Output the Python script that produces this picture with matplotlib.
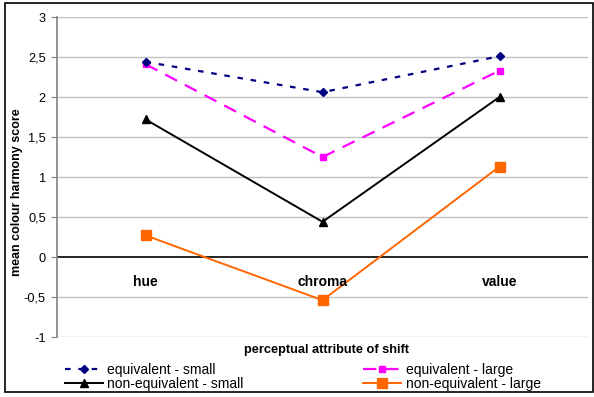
import matplotlib
matplotlib.use("Agg")
import matplotlib.pyplot as plt
from matplotlib.patches import Rectangle

plt.rcParams['font.family'] = ['Liberation Sans', 'DejaVu Sans']

categories = ["hue", "chroma", "value"]
eq_small = [2.44, 2.06, 2.51]
eq_large = [2.41, 1.25, 2.33]
neq_small = [1.72, 0.44, 2.0]
neq_large = [0.27, -0.54, 1.13]
yticks = [-1, -0.5, 0, 0.5, 1, 1.5, 2, 2.5, 3]
ytick_labels = ["-1", "-0,5", "0", "0,5", "1", "1,5", "2", "2,5", "3"]

fig = plt.figure(figsize=(5.94, 3.97), dpi=100)
ax = fig.add_axes([57/594, 1-337/397, (588-57)/594, (337-17)/397])

x = [0.5, 1.5, 2.5]
ax.set_xlim(0, 3)
ax.set_ylim(-1, 3)

for yv in yticks:
    if yv != 0:
        ax.axhline(yv, color="#c0c0c0", lw=1, zorder=0)
ax.axhline(0, color="black", lw=1.2, zorder=1)

l1, = ax.plot(x, eq_small, color="#000080", lw=1.6, dashes=(2.5, 3.5), marker="D", ms=4,
              label="equivalent - small", zorder=5)
l2, = ax.plot(x, eq_large, color="#ff00ff", lw=1.6, dashes=(6, 4), marker="s", ms=5,
              label="equivalent - large", zorder=4)
l3, = ax.plot(x, neq_small, color="black", lw=1.4, marker="^", ms=6,
              label="non-equivalent - small", zorder=3)
l4, = ax.plot(x, neq_large, color="#ff6600", lw=1.4, marker="s", ms=7,
              label="non-equivalent - large", zorder=3)

for xi, c in zip(x, categories):
    ax.text(xi, -0.31, c, ha="center", va="center", fontsize=10, fontweight="bold")

ax.set_xticks([])
ax.set_yticks(yticks)
ax.set_yticklabels(ytick_labels, fontsize=9.2)
ax.tick_params(axis="y", length=4, color="#808080", direction="out", pad=4)
for s in ["top", "right", "bottom"]:
    ax.spines[s].set_visible(False)
ax.spines["left"].set_color("#808080")
ax.spines["left"].set_linewidth(1.2)

fig.text(17/594, 1-192/397, "mean colour harmony score", rotation=90, ha="center", va="center",
         fontsize=9, fontweight="bold")
fig.text(326/594, 1-350/397, "perceptual attribute of shift", ha="center", va="center",
         fontsize=9.2, fontweight="bold")

leg = fig.legend(handles=[l1, l3, l2, l4], ncol=2, loc="center left",
                 bbox_to_anchor=(65/594, 1-377/397), frameon=False, fontsize=10,
                 handlelength=2.75, handletextpad=0.3, columnspacing=8.6,
                 labelspacing=0.0, borderpad=0, borderaxespad=0)

fig.patches.append(Rectangle((5/594, 1-392/397), (593-5)/594, (392-3)/397,
                             transform=fig.transFigure, fill=False, edgecolor="black", lw=1.2))

fig.savefig("out.png", dpi=100)
